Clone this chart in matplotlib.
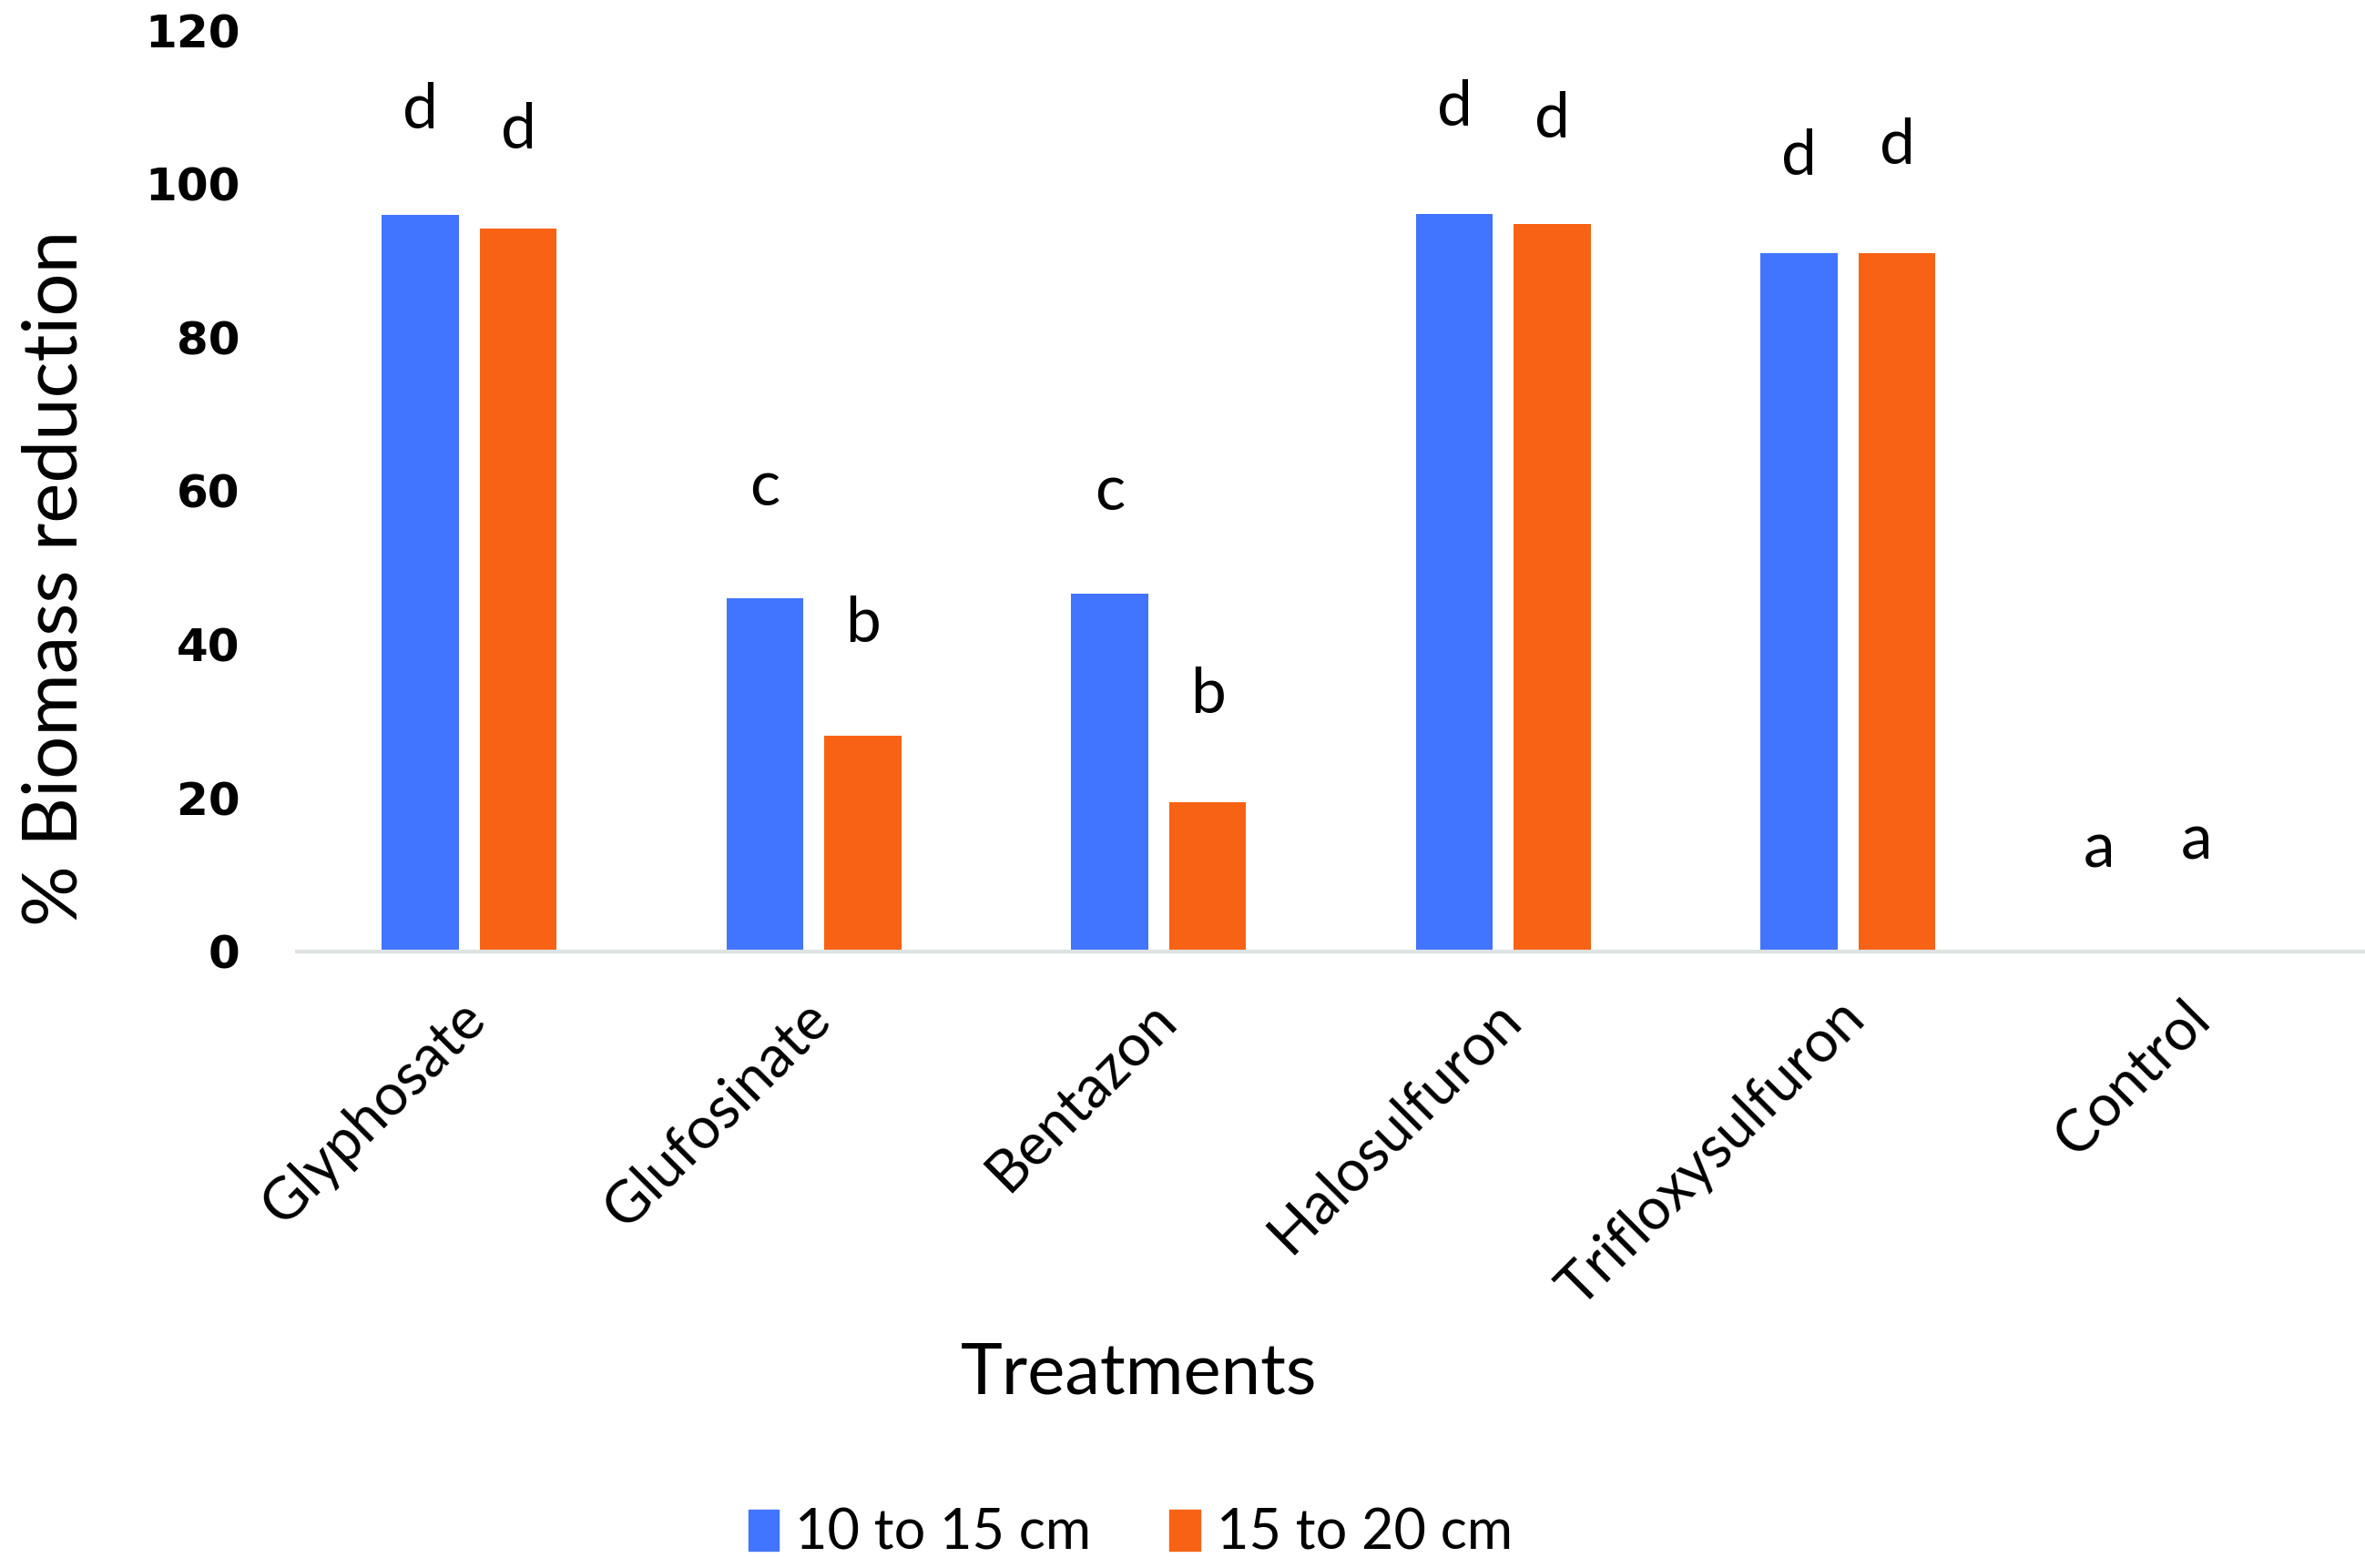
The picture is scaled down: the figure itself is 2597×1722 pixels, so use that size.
import numpy as np
import matplotlib.pyplot as plt
import matplotlib.transforms as mtransforms
from matplotlib.patches import Patch

treatments = ['Glyphosate', 'Glufosinate', 'Bentazon', 'Halosulfuron', 'Trifloxysulfuron', 'Control']
small = [95.9, 46.0, 46.6, 96.1, 91.0, 0.0]      # 10 to 15 cm
large = [94.1, 28.1, 19.4, 94.7, 91.0, 0.0]      # 15 to 20 cm
letters_small = ['d', 'c', 'c', 'd', 'd', 'a']
letters_large = ['d', 'b', 'b', 'd', 'd', 'a']
# heights where the letters sit
ypos_small = [109.5, 60.4, 59.8, 109.9, 103.5, 13.3]
ypos_large = [106.9, 42.6, 33.3, 108.3, 104.9, 14.3]

blue = '#4174FF'
orange = '#F76214'
font = 'Lato'

fig = plt.figure(figsize=(25.97, 17.22), dpi=100)
ax = fig.add_axes([0.1256, 0.3933, 0.8744, 0.5875])

x = np.arange(len(treatments))
off = 0.142
w = 0.223
ax.bar(x - off, small, w, color=blue)
ax.bar(x + off, large, w, color=orange)

# control letters sit a bit to the left
shift = [0, 0, 0, 0, 0, -0.13]
for i in range(len(treatments)):
    ax.text(x[i] - off + shift[i], ypos_small[i], letters_small[i], ha='center', va='center',
            fontsize=50, family=font)
    ax.text(x[i] + off + shift[i], ypos_large[i], letters_large[i], ha='center', va='center',
            fontsize=50, family=font)

ax.set_xlim(-0.5, 5.5)
ax.set_ylim(0, 120)
ax.set_yticks(range(0, 121, 20))
for s in ['top', 'right', 'left']:
    ax.spines[s].set_visible(False)
ax.spines['bottom'].set_color('#DDE2E3')
ax.spines['bottom'].set_linewidth(3)
ax.tick_params(axis='both', length=0)
ax.tick_params(axis='y', pad=45)
for lab in ax.get_yticklabels():
    lab.set_fontsize(36)
    lab.set_fontweight('heavy')
    lab.set_family('DejaVu Sans')

ax.set_xticks(x)
ax.set_xticklabels(treatments, rotation=45, ha='right', rotation_mode='anchor',
                   fontsize=46, family=font)
ax.tick_params(axis='x', pad=32)
nudge = mtransforms.ScaledTranslation(-0.12, 0, fig.dpi_scale_trans)
for lab in ax.get_xticklabels():
    lab.set_transform(lab.get_transform() + nudge)

ax.set_ylabel('% Biomass reduction', fontsize=60, family=font)
ax.yaxis.set_label_coords(-0.1, 0.405)
ax.set_xlabel('Treatments', fontsize=56, family=font)
ax.xaxis.set_label_coords(0.407, -0.424)

handles = [Patch(color=blue, label='10 to 15 cm'), Patch(color=orange, label='15 to 20 cm')]
fig.legend(handles=handles, loc='center', bbox_to_anchor=(0.478, 0.022), ncol=2,
           frameon=False, prop={'family': font, 'size': 44},
           handlelength=0.55, handleheight=0.75, handletextpad=0.3, columnspacing=1.4)

fig.savefig('out.png', dpi=100)
